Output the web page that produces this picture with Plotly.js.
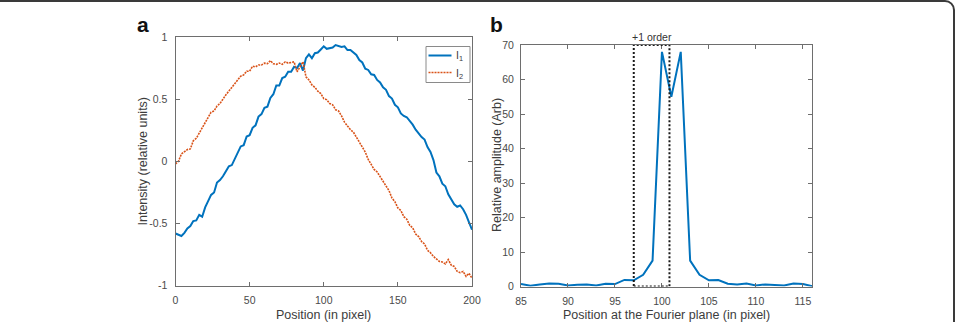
<!DOCTYPE html>
<html>
<head>
<meta charset="utf-8">
<script src="https://cdn.plot.ly/plotly-3.0.1.min.js"></script>
<style>
  html, body { margin: 0; padding: 0; background: #fff; overflow: hidden; }
  #wrap { position: relative; width: 959px; height: 322px; overflow: hidden; }
  #frame { position: absolute; left: -20px; top: 0px; width: 975px; height: 360px;
           border: 2px solid #3a3a3a; border-radius: 10px; box-sizing: border-box; pointer-events: none; }
  #chart { position: absolute; left: 0; top: 0; width: 959px; height: 322px; }
</style>
</head>
<body>
<div id="wrap">
  <div id="chart"></div>
  <div id="frame"></div>
</div>
<script>
// Panel a: intensity profiles I1 and I2 along the pixel row
const positionA = [0,2,4,6,8,10,12,14,16,18,20,22,24,26,28,30,32,34,36,38,40,42,44,46,48,50,52,54,56,58,60,62,64,66,68,70,72,74,76,78,80,82,84,86,88,90,92,94,96,98,100,102,104,106,108,110,112,114,116,118,120,122,124,126,128,130,132,134,136,138,140,142,144,146,148,150,152,154,156,158,160,162,164,166,168,170,172,174,176,178,180,182,184,186,188,190,192,194,196,198,200];

const intensityI1 = [-0.58,-0.59,-0.60,-0.575,-0.54,-0.52,-0.48,-0.475,-0.43,-0.445,-0.37,-0.32,-0.27,-0.25,-0.17,-0.15,-0.12,-0.08,-0.04,-0.03,0.02,0.06,0.12,0.13,0.20,0.21,0.27,0.29,0.36,0.38,0.43,0.44,0.51,0.54,0.61,0.61,0.67,0.68,0.72,0.72,0.76,0.75,0.79,0.73,0.83,0.86,0.83,0.87,0.875,0.90,0.925,0.905,0.91,0.915,0.935,0.93,0.92,0.925,0.895,0.895,0.875,0.855,0.815,0.795,0.745,0.735,0.70,0.695,0.655,0.635,0.595,0.575,0.525,0.505,0.455,0.435,0.385,0.365,0.355,0.325,0.295,0.255,0.225,0.195,0.175,0.115,0.075,0.01,-0.09,-0.12,-0.18,-0.20,-0.265,-0.305,-0.345,-0.365,-0.355,-0.385,-0.43,-0.49,-0.55];

const intensityI2 = [-0.02,0.0,0.06,0.075,0.095,0.10,0.165,0.185,0.225,0.275,0.315,0.345,0.395,0.405,0.445,0.465,0.505,0.535,0.565,0.595,0.625,0.655,0.685,0.695,0.725,0.725,0.765,0.76,0.775,0.775,0.79,0.785,0.81,0.785,0.78,0.79,0.78,0.80,0.79,0.795,0.80,0.72,0.76,0.80,0.68,0.655,0.615,0.595,0.565,0.545,0.505,0.495,0.465,0.455,0.415,0.405,0.365,0.315,0.285,0.255,0.235,0.195,0.155,0.115,0.075,0.015,-0.025,-0.065,-0.085,-0.125,-0.155,-0.205,-0.235,-0.295,-0.325,-0.375,-0.395,-0.445,-0.465,-0.515,-0.535,-0.585,-0.605,-0.645,-0.665,-0.715,-0.735,-0.765,-0.785,-0.805,-0.81,-0.825,-0.79,-0.835,-0.845,-0.885,-0.895,-0.885,-0.925,-0.90,-0.94];

const seriesNames = ['I<sub>1</sub>', 'I<sub>2</sub>'];
const tickValsA = [-1,-0.5,0,0.5,1];
const tickTextA = ['-1','-0.5','0','0.5','1'];
const xTicksA = [0,50,100,150,200];

// Panel b: spectrum amplitude around the +1 order at the Fourier plane
const positionB = [85,86,87,88,89,90,91,92,93,94,95,96,97,98,99,100,101,102,103,104,105,106,107,108,109,110,111,112,113,114,115,116];
const amplitudeB = [0.7,0.2,0.6,0.9,0.8,0.3,0.5,0.6,0.3,0.8,0.7,1.9,1.8,3.4,7.5,68,55,68,7.5,3.4,1.8,1.9,0.8,0.6,0.9,0.3,0.6,0.5,0.3,0.9,0.7,0.1];
const xTicksB = [85,90,95,100,105,110,115];
const yTicksB = [0,10,20,30,40,50,60,70];
const orderWindow = [97, 100.8];   // x extent of the +1 order selection
const orderLabel = '+1 order';

const W = 959, H = 322;
const px = v => v / W;
const py = v => 1 - v / H;
const FAMILY = 'Liberation Sans, Arial, sans-serif';

const axisColor = '#6e6e6e';
const tickFont = { family: FAMILY, size: 10.5, color: '#4a4a4a' };
const titleFont = { family: FAMILY, size: 12.5, color: '#3c3c3c' };
const colorI1 = '#0072BD', colorI2 = '#D95319';
const dashI2 = '2px,1px';

function axisStyle(extra) {
  return Object.assign({
    showline: true, linecolor: axisColor, linewidth: 1, mirror: 'allticks',
    ticks: 'inside', ticklen: 4, tickcolor: axisColor, tickwidth: 1,
    showgrid: false, zeroline: false, tickfont: tickFont, fixedrange: true
  }, extra);
}

const traces = [
  { x: positionA, y: intensityI1, type: 'scatter', mode: 'lines', name: seriesNames[0],
    line: { color: colorI1, width: 2 }, xaxis: 'x', yaxis: 'y' },
  { x: positionA, y: intensityI2, type: 'scatter', mode: 'lines', name: seriesNames[1],
    line: { color: colorI2, width: 1.6, dash: dashI2 }, xaxis: 'x', yaxis: 'y' },
  { x: positionB, y: amplitudeB, type: 'scatter', mode: 'lines', name: 'amplitude',
    line: { color: colorI1, width: 2 }, xaxis: 'x2', yaxis: 'y2' }
];

// compact boxed legend in the upper right of panel a
const legBox = { l: 426, r: 470, t: 46.5, b: 82.5 };
const legRows = [55.5, 72.5];
const legendShapes = [
  { type: 'rect', xref: 'paper', yref: 'paper', x0: px(legBox.l), x1: px(legBox.r), y0: py(legBox.b), y1: py(legBox.t),
    line: { color: '#8a8a8a', width: 1 }, fillcolor: '#fff', layer: 'above' },
  { type: 'line', xref: 'paper', yref: 'paper', x0: px(428.5), x1: px(451.5), y0: py(legRows[0]), y1: py(legRows[0]),
    line: { color: colorI1, width: 2 }, layer: 'above' },
  { type: 'line', xref: 'paper', yref: 'paper', x0: px(428.5), x1: px(451.5), y0: py(legRows[1]), y1: py(legRows[1]),
    line: { color: colorI2, width: 1.6, dash: dashI2 }, layer: 'above' }
];
const legendLabels = seriesNames.map((n, i) => ({
  text: n, xref: 'paper', yref: 'paper', x: px(453.5), y: py(legRows[i] + 1), xanchor: 'left', yanchor: 'middle',
  showarrow: false, font: { family: FAMILY, size: 10.5, color: '#3c3c3c' }
}));

function label(text, x, y, font, extra) {
  return Object.assign({ text, xref: 'paper', yref: 'paper', x: px(x), y: py(y),
    xanchor: 'center', yanchor: 'middle', showarrow: false, font }, extra || {});
}

const layout = {
  width: W, height: H,
  margin: { l: 0, r: 0, t: 0, b: 0 },
  paper_bgcolor: 'rgba(0,0,0,0)', plot_bgcolor: '#fff',
  font: { family: FAMILY },
  showlegend: false,
  xaxis: axisStyle({ domain: [px(175.5), px(472)], range: [0, 200], tickvals: xTicksA, anchor: 'y', ticklabelstandoff: 5 }),
  yaxis: axisStyle({ domain: [py(285.7), py(37)], range: [-1, 1], tickvals: tickValsA, ticktext: tickTextA, anchor: 'x', ticklabelstandoff: 5 }),
  xaxis2: axisStyle({ domain: [px(521), px(812.3)], range: [85, 116], tickvals: xTicksB, anchor: 'y2', ticklabelstandoff: 5 }),
  yaxis2: axisStyle({ domain: [py(286.5), py(45)], range: [0, 70], tickvals: yTicksB, anchor: 'x2', ticklabelstandoff: 4 }),
  shapes: [
    { type: 'rect', xref: 'x2', yref: 'y2', x0: orderWindow[0], x1: orderWindow[1], y0: 0, y1: 70,
      line: { color: '#1a1a1a', width: 2, dash: '2px,2px' }, fillcolor: 'rgba(0,0,0,0)' }
  ].concat(legendShapes),
  annotations: [
    label('<b>a</b>', 143, 25, { family: FAMILY, size: 21, color: '#111' }),
    label('<b>b</b>', 496, 25, { family: FAMILY, size: 21, color: '#111' }),
    { text: orderLabel, xref: 'x2', yref: 'paper', x: (orderWindow[0] + orderWindow[1]) / 2, y: py(37),
      xanchor: 'center', yanchor: 'middle', showarrow: false, font: { family: FAMILY, size: 10.5, color: '#333' } },
    label('Position (in pixel)', 323.7, 315, titleFont),
    label('Intensity (relative units)', 142, 161.5, titleFont, { textangle: -90 }),
    label('Position at the Fourier plane (in pixel)', 666.7, 315, titleFont),
    label('Relative amplitude (Arb)', 497, 165, titleFont, { textangle: -90 })
  ].concat(legendLabels)
};

Plotly.newPlot('chart', traces, layout, { displayModeBar: false, staticPlot: true });
</script>
</body>
</html>
